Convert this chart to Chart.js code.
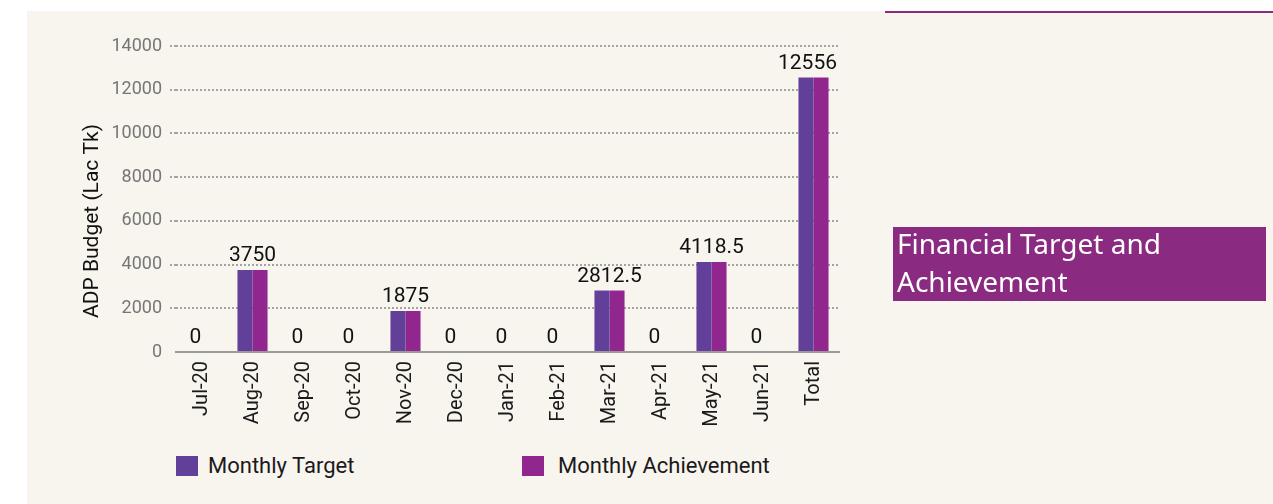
<!DOCTYPE html>
<html>
<head>
<meta charset="utf-8">
<script src="https://cdn.jsdelivr.net/npm/chart.js"></script>
<style>
  body { margin: 0; background: #fff; width: 1273px; height: 504px; overflow: hidden; position: relative; font-family: Roboto, sans-serif; }
  #bg { position: absolute; left: 27px; top: 11px; right: 0; bottom: 0; background: #f8f4ee; }
  #rule { position: absolute; left: 885px; top: 11px; width: 388px; height: 2px; background: #8b2a82; }
  #chartBox { position: absolute; left: 27px; top: 11px; width: 898px; height: 421px; }
  .legend-box { position: absolute; top: 456px; width: 22px; height: 20px; }
  .legend-text { position: absolute; top: 455px; font: 22px/22px Roboto, sans-serif; color: #1a1a1a; white-space: nowrap; }
  #titleBox { position: absolute; left: 893px; top: 227px; width: 373px; height: 74px; background: #8a2a81; color: #fff; }
  #titleBox div { position: relative; top: -3px; padding-left: 4px; font: 28px/38px "Noto Sans", sans-serif; }
</style>
</head>
<body>
<div id="bg"></div>
<div id="rule"></div>
<div id="chartBox"><canvas id="adpChart"></canvas></div>
<div id="legend"></div>
<div id="titleBox"><div>Financial Target and<br>Achievement</div></div>

<script>
// Months along the x axis
const months = ['Jul-20', 'Aug-20', 'Sep-20', 'Oct-20', 'Nov-20', 'Dec-20', 'Jan-21', 'Feb-21', 'Mar-21', 'Apr-21', 'May-21', 'Jun-21', 'Total'];

// ADP budget values (Lac Tk)
const monthlyTarget      = [0, 3750, 0, 0, 1875, 0, 0, 0, 2812.5, 0, 4118.5, 0, 12556];
const monthlyAchievement = [0, 3750, 0, 0, 1875, 0, 0, 0, 2812.5, 0, 4118.5, 0, 12556];

// y axis range
const yMin = 0;
const yMax = 14000;
const yStep = 2000;

const seriesNames = ['Monthly Target', 'Monthly Achievement'];
const seriesColors = ['#623f98', '#91268e'];

// value label above each month (one per group)
const groupLabels = {
    id: 'groupLabels',
    afterDatasetsDraw(chart) {
        const ctx = chart.ctx;
        const x = chart.scales.x;
        const y = chart.scales.y;
        ctx.save();
        ctx.font = '21px Roboto, sans-serif';
        ctx.fillStyle = '#111';
        ctx.textAlign = 'center';
        ctx.textBaseline = 'alphabetic';
        months.forEach((m, i) => {
            const top = Math.max(monthlyTarget[i], monthlyAchievement[i]);
            // zero labels and the last one sit a bit to the left
            const shift = (top === 0 || i === months.length - 1) ? -6 : 0;
            ctx.fillText(String(top), x.getPixelForValue(i) + shift, y.getPixelForValue(top) - 9);
        });
        ctx.restore();
    }
};

// y axis title, drawn a little lower than chart.js would put it
const yTitle = {
    id: 'yTitle',
    afterDraw(chart) {
        const ctx = chart.ctx;
        ctx.save();
        ctx.translate(71, 210);
        ctx.rotate(-Math.PI / 2);
        ctx.font = '21px Roboto, sans-serif';
        ctx.fillStyle = '#111';
        ctx.textAlign = 'center';
        ctx.textBaseline = 'alphabetic';
        ctx.fillText('ADP Budget (Lac Tk)', 0, 0);
        ctx.restore();
    }
};

const ctx = document.getElementById('adpChart').getContext('2d');
const chart = new Chart(ctx, {
    type: 'bar',
    data: {
        labels: months,
        datasets: [
            { label: seriesNames[0], data: monthlyTarget, backgroundColor: seriesColors[0], borderWidth: 0 },
            { label: seriesNames[1], data: monthlyAchievement, backgroundColor: seriesColors[1], borderWidth: 0 }
        ]
    },
    options: {
        responsive: true,
        maintainAspectRatio: false,
        animation: false,
        categoryPercentage: 0.59,
        barPercentage: 1,
        layout: { padding: { left: 51, right: 86, top: 35, bottom: 0 } },
        plugins: {
            legend: { display: false },
            tooltip: { enabled: false }
        },
        scales: {
            x: {
                grid: { display: false, drawTicks: false },
                border: { display: true, color: '#9a9a9a', width: 2, dash: [] },
                ticks: {
                    autoSkip: false,
                    minRotation: 90,
                    maxRotation: 90,
                    padding: 9,
                    color: '#1a1a1a',
                    font: { family: 'Roboto', size: 20 }
                },
                afterFit: s => { s.height = 80; }
            },
            y: {
                min: yMin,
                max: yMax,
                ticks: {
                    stepSize: yStep,
                    padding: 8,
                    color: '#767676',
                    font: { family: 'Roboto', size: 18 },
                    callback: v => String(v)
                },
                grid: {
                    color: c => c.tick && c.tick.value === 0 ? 'rgba(0,0,0,0)' : '#a3a3a3',
                    lineWidth: 2,
                    drawTicks: true,
                    tickLength: 6,
                    tickColor: c => c.tick && c.tick.value === 0 ? 'rgba(0,0,0,0)' : '#a3a3a3',
                    tickWidth: 2,
                    borderDash: [2, 2],
                    tickBorderDash: [2, 2]
                },
                border: { display: false, dash: [2, 2] },
                afterFit: s => { s.width = 98; }
            }
        }
    },
    plugins: [groupLabels, yTitle]
});

// legend under the chart
const legendPos = [[176, 208], [522, 558]];
const legendEl = document.getElementById('legend');
seriesNames.forEach((name, i) => {
    const box = document.createElement('div');
    box.className = 'legend-box';
    box.style.left = legendPos[i][0] + 'px';
    box.style.background = seriesColors[i];
    legendEl.appendChild(box);
    const txt = document.createElement('div');
    txt.className = 'legend-text';
    txt.style.left = legendPos[i][1] + 'px';
    txt.textContent = name;
    legendEl.appendChild(txt);
});
</script>
</body>
</html>
